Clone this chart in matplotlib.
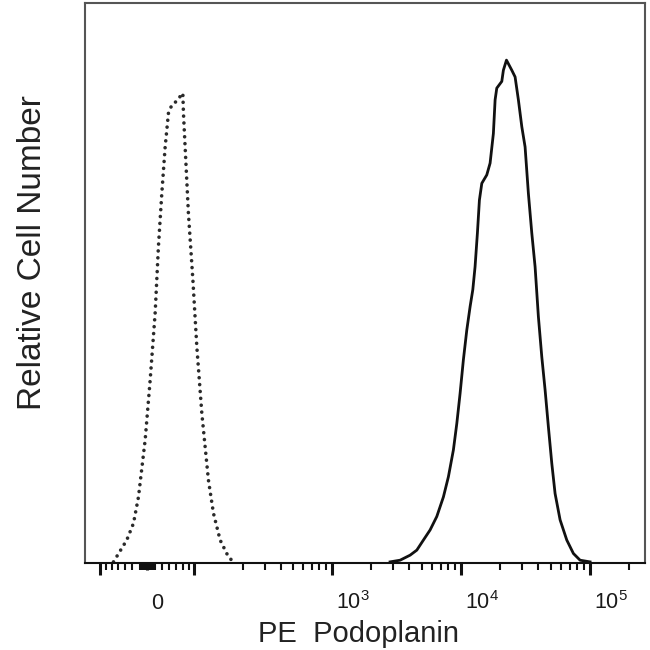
import numpy as np
import matplotlib
matplotlib.use("Agg")
import matplotlib.pyplot as plt
from matplotlib.transforms import ScaledTranslation

plt.rcParams['font.family'] = ['Liberation Sans', 'DejaVu Sans']
plt.rcParams['mathtext.fontset'] = 'custom'
plt.rcParams['mathtext.rm'] = 'Liberation Sans'
plt.rcParams['mathtext.it'] = 'Liberation Sans'

# PE Podoplanin stained cells (solid)
pe_x = [2830, 3383, 4046, 4560, 5131, 5781, 6514, 7332, 8015, 8763, 9311,
        9876, 10474, 11130, 11810, 12390, 12900, 13450, 13940, 14550, 15900,
        16870, 17890, 18450, 19010, 20790, 21390, 22600,
        24850, 26360, 27960, 29720, 31510, 33420, 35520, 37670, 39950, 42460,
        45040, 47770, 50750, 53830, 58870, 66320, 74640, 84100, 100500]
pe_y = [0.2, 0.5, 1.4, 2.3, 4.1, 5.9, 8.3, 11.8, 15.4, 20.2, 24.9,
        30.3, 36.3, 41.6, 45.8, 48.8, 52.9, 58.9, 64.8, 67.8, 69.3,
        71.4, 76.7, 82.7, 84.8, 86.0, 88.0, 89.8,
        88.0, 86.8, 82.7, 77.9, 74.3, 66.0, 58.9, 52.9, 44.0, 36.8,
        30.9, 24.3, 17.8, 12.4, 7.7, 4.1, 1.7, 0.5, 0.2]

# isotype control (dotted)
ctrl_x = [-47.2, -27.5, -18.2, -11.5, -2.6, 4.0, 10.6, 15.0, 19.6, 24.2, 28.8,
          33.7, 40.0, 46.1, 50.4, 51.4, 54.1, 59.6, 67.4, 74.6, 84.3, 98.1,
          109.5, 126.1, 149.2, 164.6]
ctrl_y = [0.2, 4.1, 7.1, 11.8, 22.0, 32.7, 44.6, 56.5, 66.0, 74.3, 80.3,
          81.8, 82.4, 83.3, 83.9, 80.3, 74.3, 62.4, 50.5, 38.6, 26.7, 14.8,
          8.9, 4.1, 1.1, 0.2]

major_ticks = [-70, 0, 70, 1e3, 1e4, 1e5]
major_labels = ['', '0', '', '$10^3$', '$10^4$', '$10^5$']
minor_ticks = ([-60, -50, -40, -30, -20, -10, -8, -6, -4, -2,
                2, 4, 6, 8, 10, 20, 30, 40, 50, 60]
               + [m * d for d in (100, 1000, 10000) for m in range(2, 10)]
               + [2e5])


def fwd(x):
    return np.arcsinh(np.asarray(x, dtype=float) / 74.0) / np.log(10)


def inv(y):
    return 74.0 * np.sinh(np.asarray(y, dtype=float) * np.log(10))


fig = plt.figure(figsize=(6.5, 6.5), dpi=100)
ax = fig.add_axes([85 / 650, 87 / 650, 560 / 650, 560 / 650])
ax.set_xscale('function', functions=(fwd, inv))

ax.plot(ctrl_x, ctrl_y, color='#2a2a2a', lw=2.6, linestyle=(0, (0.01, 1.9)),
        dash_capstyle='round', solid_capstyle='round')
ax.plot(pe_x, pe_y, color='#111111', lw=2.0, solid_joinstyle='round')

ax.set_xlim(-100, 2.68e5)
ax.set_ylim(0, 100)

ax.set_xticks(major_ticks)
ax.set_xticklabels(major_labels)
ax.set_xticks(minor_ticks, minor=True)
ax.set_yticks([])

ax.tick_params(axis='x', which='major', direction='out', length=8.6, width=2.2,
               color='#111111', pad=24.5, labelsize=15.5, labelcolor='#1a1a1a')
ax.tick_params(axis='x', which='minor', direction='out', length=5, width=1.5,
               color='#111111')

# the zero tick is short, inside the cluster of minor ticks around it
ax.xaxis.get_major_ticks()[1].tick1line.set_markersize(5)
shift = ScaledTranslation(4 / 100, 0, fig.dpi_scale_trans)
for lbl in ax.get_xticklabels():
    lbl.set_va('baseline')
    lbl.set_ha('left')
    lbl.set_transform(lbl.get_transform() + shift)

for side in ['left', 'top', 'right']:
    ax.spines[side].set_color('#555555')
    ax.spines[side].set_linewidth(1.5)
ax.spines['bottom'].set_color('#111111')
ax.spines['bottom'].set_linewidth(1.5)

fig.text(358 / 650, 1 - 642 / 650, 'PE  Podoplanin', fontsize=21,
         ha='center', va='baseline', color='#222222')
fig.text(33 / 650, 1 - 253 / 650, 'Relative Cell Number', fontsize=24,
         ha='center', va='center', rotation=90, color='#222222')

fig.savefig('out.png', dpi=100)
